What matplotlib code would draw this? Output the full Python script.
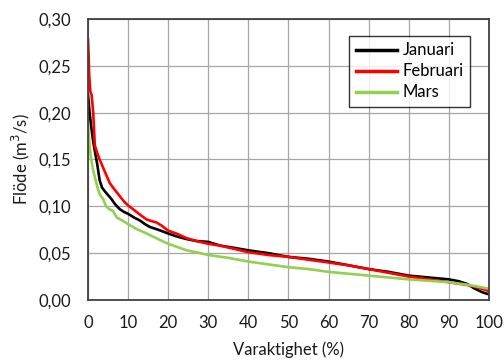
import matplotlib
matplotlib.use("Agg")
import matplotlib.pyplot as plt
from matplotlib.ticker import FuncFormatter, MultipleLocator

plt.rcParams['font.family'] = ['Lato', 'DejaVu Sans']

# Duration curves: exceedance percentage (%) and flow (m3/s)
jan_pct = [0, 0.2, 0.4, 0.8, 1.2, 1.7, 2.3, 2.9, 3.5, 4.2, 5.0, 5.8, 6.8, 7.9, 9.0, 10,
           11.5, 12.9, 14.2, 15.4, 17.5, 20, 22, 24.6, 27, 30, 33, 36, 40, 45, 50,
           55, 60, 65, 70, 75, 80, 85, 90, 92.5, 94.6, 96.5, 98.5, 100]
jan_flow = [0.219, 0.210, 0.200, 0.185, 0.172, 0.159, 0.145, 0.128, 0.120, 0.116, 0.112,
            0.108, 0.102, 0.097, 0.094, 0.092, 0.088, 0.085, 0.081, 0.078, 0.075, 0.071,
            0.068, 0.065, 0.063, 0.062, 0.058, 0.056, 0.053, 0.050, 0.046, 0.044,
            0.041, 0.037, 0.033, 0.030, 0.026, 0.024, 0.022, 0.020, 0.017, 0.012,
            0.008, 0.006]

feb_pct = [0, 0.15, 0.3, 0.6, 0.9, 1.3, 1.7, 2.3, 2.9, 3.6, 4.4, 5.4, 6.6, 7.9, 9.0,
           10, 11.5, 13, 14.6, 16, 17, 18.5, 20, 22, 24.6, 27, 30, 33, 36, 40, 45,
           50, 55, 60, 65, 70, 75, 80, 85, 90, 94.6, 97.5, 100]
feb_flow = [0.278, 0.262, 0.240, 0.222, 0.219, 0.200, 0.165, 0.157, 0.150, 0.143,
            0.135, 0.125, 0.118, 0.111, 0.105, 0.101, 0.096, 0.091, 0.086, 0.084,
            0.083, 0.079, 0.074, 0.071, 0.066, 0.063, 0.060, 0.058, 0.055, 0.051,
            0.048, 0.046, 0.043, 0.040, 0.037, 0.033, 0.029, 0.025, 0.022, 0.019,
            0.016, 0.013, 0.0095]

mar_pct = [0, 0.2, 0.4, 0.7, 1.2, 1.9, 2.5, 3.0, 3.75, 4.5, 5.3, 6.25, 7.2, 8.5, 10,
           12, 14.6, 17, 20, 22, 24.6, 27, 30, 35, 40, 45, 50, 55, 60, 65, 70, 75,
           80, 85, 90, 95, 100]
mar_flow = [0.185, 0.175, 0.165, 0.153, 0.140, 0.128, 0.118, 0.112, 0.108, 0.100,
            0.097, 0.095, 0.088, 0.085, 0.081, 0.076, 0.071, 0.066, 0.060, 0.057,
            0.053, 0.051, 0.048, 0.045, 0.041, 0.038, 0.035, 0.033, 0.030, 0.028,
            0.026, 0.024, 0.022, 0.0205, 0.019, 0.016, 0.012]

series = [
    ("Januari", jan_pct, jan_flow, "#000000"),
    ("Februari", feb_pct, feb_flow, "#ff0000"),
    ("Mars", mar_pct, mar_flow, "#92d050"),
]

fig = plt.figure(figsize=(5.04, 3.6), dpi=100)
ax = fig.add_axes([0.1746, 0.1667, 0.7956, 0.7806])

for name, x, y, c in series:
    ax.plot(x, y, color=c, lw=1.9, label=name, solid_joinstyle='round')

ax.set_xlim(0, 100)
ax.set_ylim(0, 0.30)
ax.xaxis.set_major_locator(MultipleLocator(10))
ax.yaxis.set_major_locator(MultipleLocator(0.05))
ax.yaxis.set_major_formatter(FuncFormatter(lambda v, p: f"{v:.2f}".replace(".", ",")))
ax.grid(True, color="#a6a6a6", lw=0.9)
ax.set_axisbelow(True)
for s in ax.spines.values():
    s.set_color("#404040")
    s.set_linewidth(1.3)
ax.tick_params(length=0, labelsize=12, colors="#1a1a1a")
ax.tick_params(axis='y', pad=12)
ax.tick_params(axis='x', pad=11)

ax.set_xlabel("Varaktighet (%)", fontsize=12, color="#1a1a1a", labelpad=7)
ax.set_ylabel("Flöde (m$^3$/s)", fontsize=12, color="#1a1a1a", labelpad=5)

leg = ax.legend(loc="upper right", bbox_to_anchor=(0.953, 0.94), fontsize=12,
                frameon=True, fancybox=False, edgecolor="#000000",
                handlelength=2.5, handletextpad=0.3, borderpad=0.4,
                labelspacing=0.3, borderaxespad=0)
leg.get_frame().set_linewidth(1.0)
for h in leg.get_lines():
    h.set_linewidth(2.5)

fig.savefig("out.png", dpi=100)
